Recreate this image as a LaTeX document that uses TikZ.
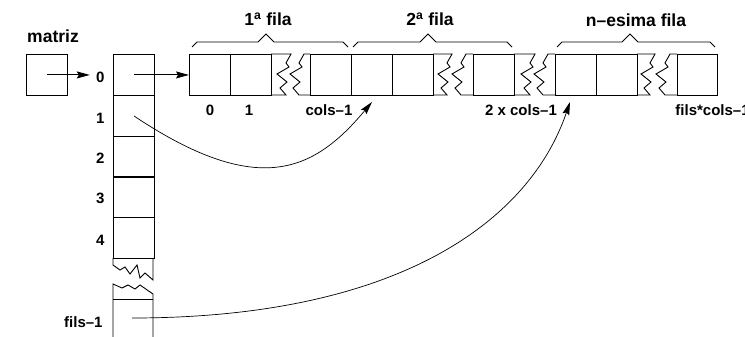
\documentclass[tikz,border=0pt]{standalone}
\usepackage{fontspec}
\setmainfont{Liberation Sans}
\usetikzlibrary{arrows.meta}
\begin{document}
\begin{tikzpicture}[x=1pt,y=-1pt,line width=0.9pt,
  cell/.style={draw,rectangle,minimum width=41pt,minimum height=41pt,inner sep=0pt,anchor=north west},
  head/.style={font=\fontsize{17.5}{20}\selectfont\bfseries,inner sep=0pt},
  lab/.style={font=\fontsize{15}{18}\selectfont\bfseries,inner sep=0pt},
  arr/.style={-{Stealth[length=13pt,width=7pt,inset=2pt]}},
  zig/.style={line join=miter}]
\useasboundingbox (0,0) rectangle (745,337);
\clip (0,0) rectangle (745,337);

% pointer variable
\node[head] (tm) at (53,36) {matriz};
\node[cell] (mbox) at (26,54) {};

% column of row pointers
\node[cell] (k0) at (113,54) {};
\node[cell] (k1) at (113,95) {};
\node[cell] (k2) at (113,135.5) {};
\node[cell] (k3) at (113,176) {};
\node[cell] (k4) at (113,217) {};
\draw[zig] (113,258) -- (113,265) -- (120,270) -- (125,267) -- (130,274) -- (137,265) -- (140,278) -- (145,273) -- (153,280) -- (153,258);
\draw[zig] (113,337) -- (113,284) -- (122,288) -- (128,285) -- (135,289) -- (140,285) -- (153,294) -- (153,337);
\draw (113,299) -- (153,299);
\coordinate (kf) at (132,318);

\node[lab,anchor=east] (l0) at (105,77) {0};
\node[lab,anchor=east] (l1) at (105,118) {1};
\node[lab,anchor=east] (l2) at (105,158) {2};
\node[lab,anchor=east] (l3) at (105,198) {3};
\node[lab,anchor=east] (l4) at (105,240) {4};
\node[lab,anchor=east] (lf) at (103,322) {fils–1};

% the data block
\node[cell] (a1) at (189,54) {};
\node[cell] (a2) at (230,54) {};
\node[cell] (a3) at (310,54) {};
\node[cell] (b1) at (351,54) {};
\node[cell] (b2) at (392,54) {};
\node[cell] (b3) at (473,54) {};
\node[cell] (n1) at (555,54) {};
\node[cell] (n2) at (596,54) {};
\node[cell,minimum width=40pt] (n3) at (677,54) {};

% breaks: left part and right part of each cut
\foreach \L/\za/\zb/\R in {271/291/304/310, 433/452/466/473, 514/535/548/555, 637/655/670/677}{
  \draw[zig] (\L,54) -- (\za,54) -- ++(-5,9) -- ++(3,4) -- ++(-12,7) -- ++(10,8) -- ++(-7,6) -- ++(6,7) -- (\L,95);
  \draw[zig] (\R,54) -- (\zb,54) -- ++(-5,9) -- ++(3,4) -- ++(-12,7) -- ++(10,8) -- ++(-7,6) -- ++(6,7) -- (\R,95);
}

% braces
\draw[zig] (192,47) -- (197,42) -- (258,42) -- (266,34) -- (274,42) -- (343,42) -- (348,47);
\draw[zig] (353,47) -- (358,42) -- (420,42) -- (428,34) -- (436,42) -- (507,42) -- (512,47);
\draw[zig] (557,47) -- (562,42) -- (622,42) -- (630,34) -- (638,42) -- (710,42) -- (715,47);
\node[head] (h1) at (268,19) {1\textsuperscript{a} fila};
\node[head] (h2) at (430,19) {2\textsuperscript{a} fila};
\node[head] (h3) at (636,20) {n–esima fila};

% index labels
\node[lab] (i0) at (210,110) {0};
\node[lab] (i1) at (249,110) {1};
\node[lab] (i2) at (329,110) {cols–1};
\node[lab] (i3) at (521,110) {2 x cols–1};
\node[lab,anchor=west] (i4) at (675,110) {fils*cols–1};

% arrows
\coordinate (t1) at (372,102);
\coordinate (t2) at (570,102);
\draw[arr,shorten >=6pt] (mbox.center) -- (mbox.center -| l0.west);
\draw[arr] (k0.center) -- (a1.west);
\draw[arr,line width=0.7pt] (k1.center) .. controls (260,200) and (315,170) .. (t1);
\draw[arr,line width=0.7pt] (kf) .. controls (400,318) and (530,220) .. (t2);
\end{tikzpicture}
\end{document}
